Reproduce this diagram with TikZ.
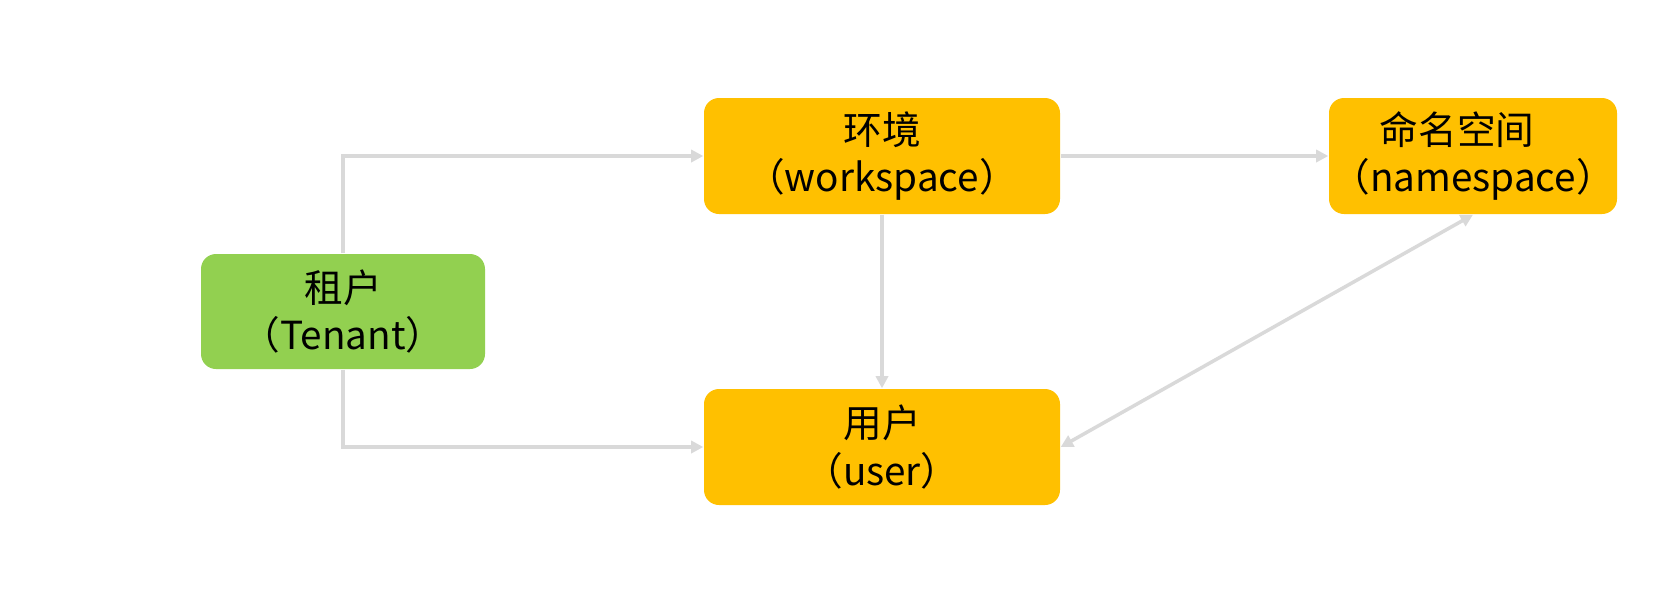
\documentclass[tikz,border=0pt]{standalone}
\usepackage{fontspec}
\setmainfont{Noto Sans CJK SC}
\usetikzlibrary{positioning,arrows.meta}
\definecolor{grn}{HTML}{92D050}
\definecolor{yel}{HTML}{FFC000}
\definecolor{gry}{HTML}{D9D9D9}
\tikzstyle{box} = [rounded corners=0.15cm, align=center, inner sep=0pt, font=\fontsize{11}{13.5}\selectfont, execute at begin node={\rule{0pt}{13.5pt}}]
\tikzstyle{con} = [draw=gry, line width=1pt, -{Triangle[length=3.5pt,width=3.5pt]}]

\begin{document}
\begin{tikzpicture}
\useasboundingbox (0,0) rectangle (16.59,-6.11);

\node[box, fill=grn, minimum width=2.84cm, minimum height=1.15cm] (t_1) at (3.43,-3.115) {租户\\（Tenant）};
\node[box, fill=yel, minimum width=3.56cm, minimum height=1.16cm] (w_1) at (8.82,-1.56) {环境\\（workspace）};
\node[box, fill=yel, minimum width=2.88cm, minimum height=1.16cm] (s_1) at (14.73,-1.56) {命名空间\hspace*{9pt}\\（namespace）};
\node[box, fill=yel, minimum width=3.56cm, minimum height=1.16cm] (u_1) at (8.82,-4.47) {用户\\（user）};

\draw[con] (t_1.north) |- (w_1.west);
\draw[con] (t_1.south) |- (u_1.west);
\draw[con] (w_1.south) -- (u_1.north);
\draw[con] (w_1.east) -- (s_1.west);
\draw[con, {Triangle[length=3.5pt,width=3.5pt]}-{Triangle[length=3.5pt,width=3.5pt]}] (u_1.east) -- (s_1.south);

\end{tikzpicture}
\end{document}
